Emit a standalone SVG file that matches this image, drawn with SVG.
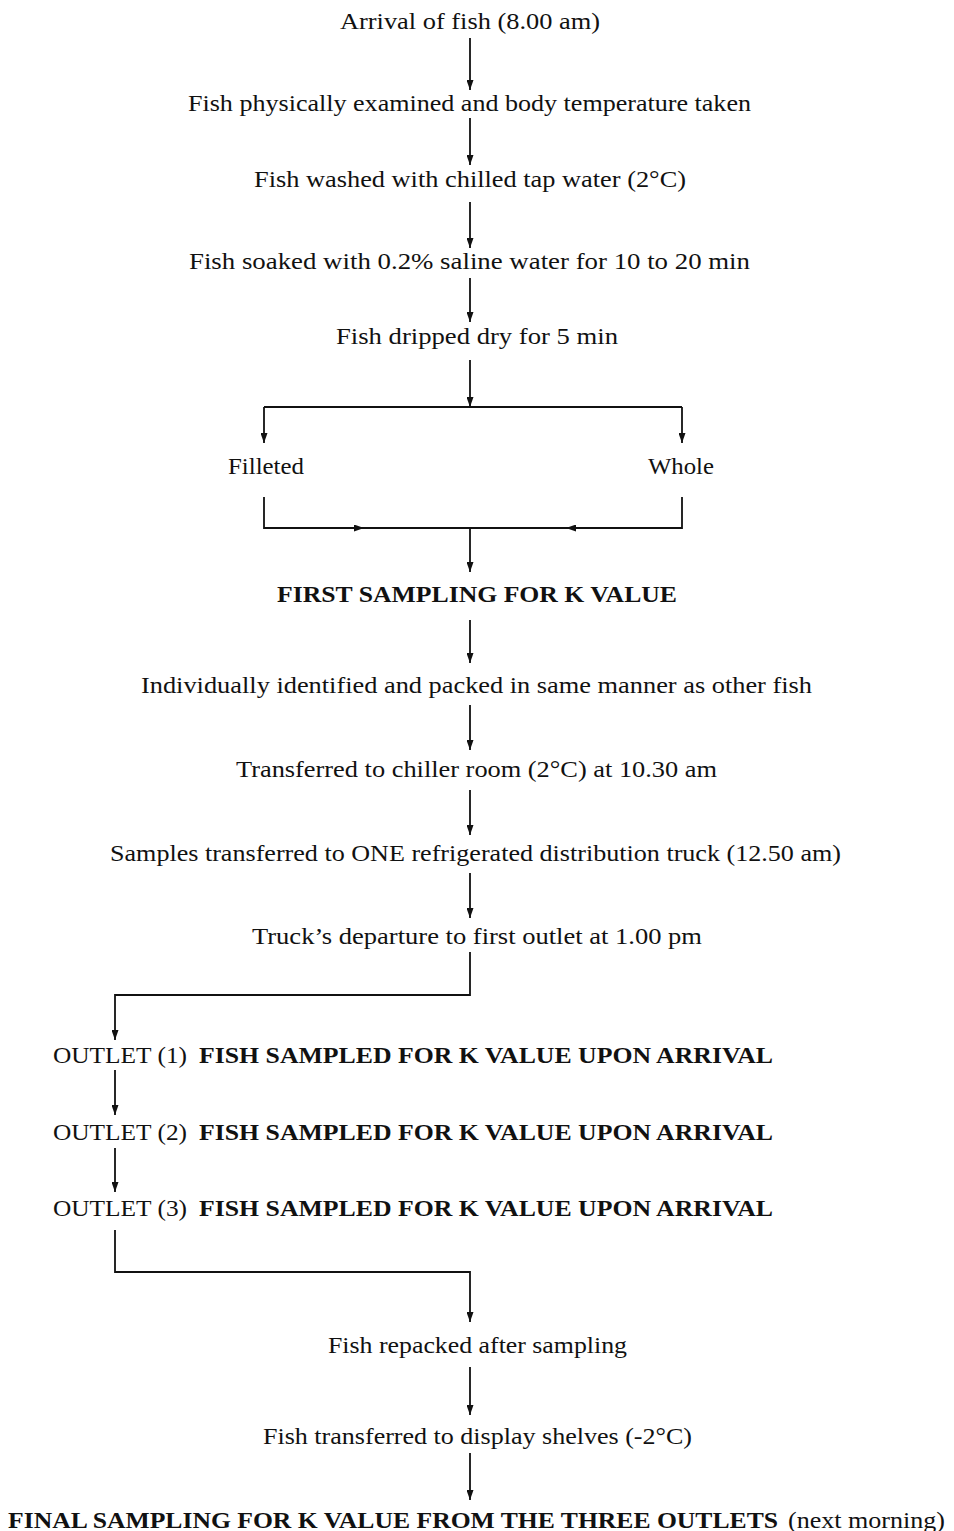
<svg xmlns="http://www.w3.org/2000/svg" width="954" height="1531" viewBox="0 0 954 1531">
<defs>
<style>
text{font-family:"Liberation Serif","Times New Roman",serif;font-size:24px;fill:#111}
.b{font-weight:bold}
.ln{stroke:#111;stroke-width:1.8;fill:none}
</style>
<marker id="ah" markerUnits="userSpaceOnUse" markerWidth="10" markerHeight="7" viewBox="0 0 10 7" refX="10" refY="3.5" orient="auto"><path d="M0,0 L10,3.5 L0,7 z" fill="#111"/></marker>
</defs>
<rect width="954" height="1531" fill="#fff"/>
<g id="n1"><text x="340" y="29" textLength="260" lengthAdjust="spacingAndGlyphs">Arrival of fish (8.00 am)</text></g>
<g id="n2"><text x="188" y="111" textLength="563" lengthAdjust="spacingAndGlyphs">Fish physically examined and body temperature taken</text></g>
<g id="n3"><text x="254" y="187" textLength="432" lengthAdjust="spacingAndGlyphs">Fish washed with chilled tap water (2°C)</text></g>
<g id="n4"><text x="189" y="269" textLength="561" lengthAdjust="spacingAndGlyphs">Fish soaked with 0.2% saline water for 10 to 20 min</text></g>
<g id="n5"><text x="336" y="344" textLength="282" lengthAdjust="spacingAndGlyphs">Fish dripped dry for 5 min</text></g>
<g id="n6"><text x="228" y="474" textLength="76" lengthAdjust="spacingAndGlyphs">Filleted</text></g>
<g id="n7"><text x="648" y="474" textLength="66" lengthAdjust="spacingAndGlyphs">Whole</text></g>
<g id="n8"><text class="b" x="277" y="602" textLength="400" lengthAdjust="spacingAndGlyphs">FIRST SAMPLING FOR K VALUE</text></g>
<g id="n9"><text x="141" y="693" textLength="671" lengthAdjust="spacingAndGlyphs">Individually identified and packed in same manner as other fish</text></g>
<g id="n10"><text x="236" y="777" textLength="481" lengthAdjust="spacingAndGlyphs">Transferred to chiller room (2°C) at 10.30 am</text></g>
<g id="n11"><text x="110" y="861" textLength="731" lengthAdjust="spacingAndGlyphs">Samples transferred to ONE refrigerated distribution truck (12.50 am)</text></g>
<g id="n12"><text x="252" y="944" textLength="450" lengthAdjust="spacingAndGlyphs">Truck’s departure to first outlet at 1.00 pm</text></g>
<g id="n13"><text x="53" y="1063" textLength="134" lengthAdjust="spacingAndGlyphs">OUTLET (1)</text><text class="b" x="199" y="1063" textLength="574" lengthAdjust="spacingAndGlyphs">FISH SAMPLED FOR K VALUE UPON ARRIVAL</text></g>
<g id="n14"><text x="53" y="1140" textLength="134" lengthAdjust="spacingAndGlyphs">OUTLET (2)</text><text class="b" x="199" y="1140" textLength="574" lengthAdjust="spacingAndGlyphs">FISH SAMPLED FOR K VALUE UPON ARRIVAL</text></g>
<g id="n15"><text x="53" y="1216" textLength="134" lengthAdjust="spacingAndGlyphs">OUTLET (3)</text><text class="b" x="199" y="1216" textLength="574" lengthAdjust="spacingAndGlyphs">FISH SAMPLED FOR K VALUE UPON ARRIVAL</text></g>
<g id="n16"><text x="328" y="1353" textLength="299" lengthAdjust="spacingAndGlyphs">Fish repacked after sampling</text></g>
<g id="n17"><text x="263" y="1444" textLength="429" lengthAdjust="spacingAndGlyphs">Fish transferred to display shelves (-2°C)</text></g>
<g id="n18"><text class="b" x="8" y="1528" textLength="770" lengthAdjust="spacingAndGlyphs">FINAL SAMPLING FOR K VALUE FROM THE THREE OUTLETS</text><text x="788" y="1528" textLength="157" lengthAdjust="spacingAndGlyphs">(next morning)</text></g>
<g id="connectors">
<path class="ln" d="M470,38 V90" marker-end="url(#ah)"/>
<path class="ln" d="M470,118 V165" marker-end="url(#ah)"/>
<path class="ln" d="M470,202 V248" marker-end="url(#ah)"/>
<path class="ln" d="M470,278 V322" marker-end="url(#ah)"/>
<path class="ln" d="M470,360 V407" marker-end="url(#ah)"/>
<path class="ln" d="M264,407 H682"/>
<path class="ln" d="M264,407 V443" marker-end="url(#ah)"/>
<path class="ln" d="M682,407 V443" marker-end="url(#ah)"/>
<path class="ln" d="M264,497 V528 H364" marker-end="url(#ah)"/>
<path class="ln" d="M682,497 V528 H566" marker-end="url(#ah)"/>
<path class="ln" d="M364,528 H566"/>
<path class="ln" d="M470,528 V572" marker-end="url(#ah)"/>
<path class="ln" d="M470,620 V663" marker-end="url(#ah)"/>
<path class="ln" d="M470,705 V750" marker-end="url(#ah)"/>
<path class="ln" d="M470,790 V835" marker-end="url(#ah)"/>
<path class="ln" d="M470,873 V918" marker-end="url(#ah)"/>
<path class="ln" d="M470,952 V995 H115 V1040" marker-end="url(#ah)"/>
<path class="ln" d="M115,1070 V1115" marker-end="url(#ah)"/>
<path class="ln" d="M115,1148 V1192" marker-end="url(#ah)"/>
<path class="ln" d="M115,1230 V1272 H470 V1322" marker-end="url(#ah)"/>
<path class="ln" d="M470,1367 V1415" marker-end="url(#ah)"/>
<path class="ln" d="M470,1453 V1500" marker-end="url(#ah)"/>
</g>
</svg>
